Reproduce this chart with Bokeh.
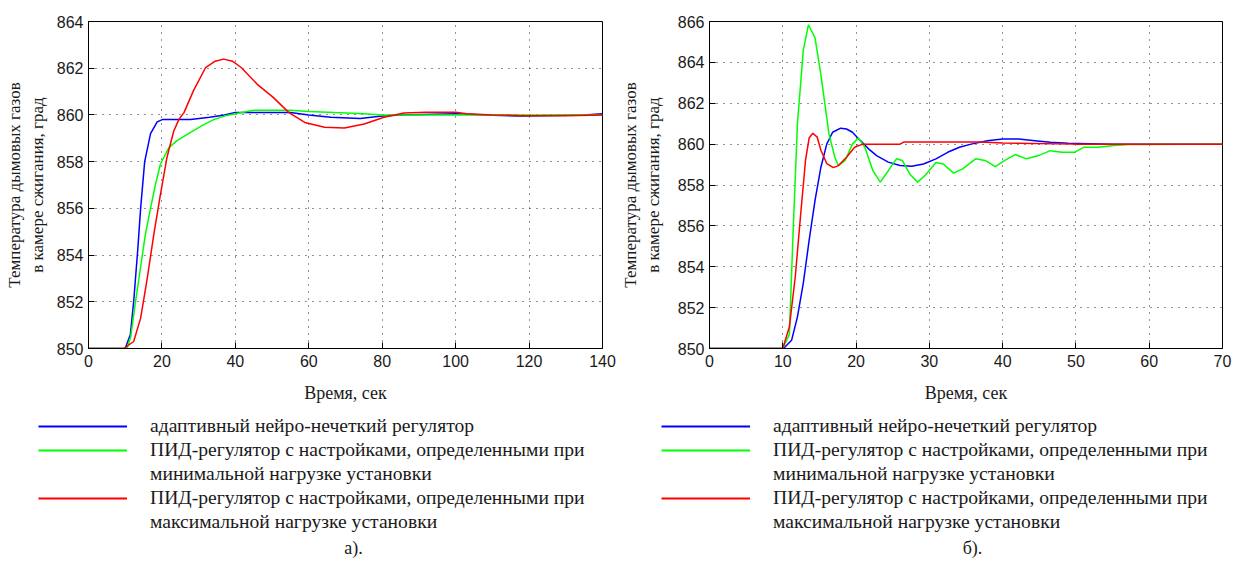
from bokeh.plotting import figure
from bokeh.models import Range1d, FixedTicker, Legend, LegendItem, Label
from bokeh.layouts import row, column
from bokeh.embed import file_html
from bokeh.resources import INLINE

# ---------------- data: panel a) ----------------
a_x_ticks = [0, 20, 40, 60, 80, 100, 120, 140]
a_y_ticks = [850, 852, 854, 856, 858, 860, 862, 864]

a_blue_t = [0, 10.0, 11.4, 12.3, 13.4, 14.2, 15.3, 16.9, 18.7, 20.1, 27.8, 33.0, 37.0, 40.0,
            55.0, 60.0, 66.0, 74.0, 80.0, 85.0, 100.0, 108.0, 118.0, 135.0, 140.0]
a_blue_y = [850.0, 850.0, 850.6, 852.0, 854.2, 856.0, 858.0, 859.2, 859.7, 859.8, 859.8, 859.9, 860.0, 860.1,
            860.1, 860.0, 859.9, 859.85, 859.95, 860.0, 860.05, 860.0, 859.95, 860.0, 860.05]

a_green_t = [0, 10.5, 11.5, 12.8, 14.2, 15.5, 16.9, 18.2, 19.6, 21.9, 24.1, 27.8, 31.0, 34.1, 37.0,
             40.0, 45.0, 55.0, 60.0, 67.0, 75.0, 80.0, 90.0, 140.0]
a_green_y = [850.0, 850.0, 850.5, 852.0, 853.5, 854.9, 856.0, 857.0, 857.9, 858.6, 858.9, 859.25, 859.55, 859.8, 859.95,
             860.05, 860.2, 860.2, 860.15, 860.1, 860.05, 860.0, 860.0, 860.0]

a_red_t = [0, 9.6, 12.3, 14.2, 16.0, 17.8, 19.6, 21.4, 23.2, 24.6, 26.0, 28.6, 31.9, 34.5, 36.8, 39.2,
           41.6, 45.9, 50.3, 54.6, 58.9, 64.3, 69.7, 75.1, 80.5, 85.9, 92.0, 100.0, 103.0, 110.0, 118.0, 130.0, 140.0]
a_red_y = [850.0, 850.0, 850.3, 851.3, 853.0, 854.9, 856.6, 858.2, 859.3, 859.8, 860.1, 861.04, 862.03, 862.3, 862.39, 862.3,
           862.03, 861.32, 860.75, 860.1, 859.68, 859.47, 859.44, 859.61, 859.9, 860.08, 860.12, 860.12, 860.05, 860.0, 859.97, 859.97, 860.0]

# ---------------- data: panel б) ----------------
b_x_ticks = [0, 10, 20, 30, 40, 50, 60, 70]
b_y_ticks = [850, 852, 854, 856, 858, 860, 862, 864, 866]

b_blue_t = [0, 10.1, 11.2, 12.0, 12.8, 13.6, 14.4, 15.2, 16.0, 16.8, 17.9, 18.7, 19.5, 20.6, 21.7, 22.8,
            24.4, 26.0, 27.6, 29.2, 30.9, 32.5, 34.1, 35.7, 37.9, 40.0, 42.2, 44.4, 46.5, 48.9, 55.0, 70.0]
b_blue_y = [850.0, 850.0, 850.4, 851.55, 853.2, 855.3, 857.25, 858.87, 860.0, 860.58, 860.78, 860.74, 860.58, 860.17, 859.77, 859.44,
            859.12, 858.95, 858.92, 859.03, 859.28, 859.6, 859.85, 860.0, 860.17, 860.25, 860.25, 860.17, 860.09, 860.04, 860.0, 860.0]

b_green_t = [0, 10.0, 10.9, 11.4, 12.0, 12.8, 13.5, 14.4, 15.2, 16.3, 17.1, 17.6, 18.5, 19.5, 20.3, 21.2,
             22.3, 23.3, 24.4, 25.5, 26.3, 27.4, 28.4, 29.5, 30.9, 31.9, 33.3, 34.6, 36.3, 37.6, 39.0, 40.3,
             41.7, 43.3, 44.9, 46.5, 48.1, 49.8, 51.1, 53.0, 55.2, 57.3, 60.0, 70.0]
b_green_y = [850.0, 850.0, 850.7, 855.6, 861.0, 864.6, 865.84, 865.2, 863.4, 860.5, 859.36, 858.95, 859.2, 860.0, 860.3, 859.85,
             858.7, 858.14, 858.7, 859.28, 859.2, 858.5, 858.14, 858.5, 859.1, 859.03, 858.58, 858.8, 859.28, 859.2, 858.9, 859.2,
             859.49, 859.28, 859.44, 859.68, 859.6, 859.6, 859.85, 859.85, 859.93, 859.98, 859.98, 860.0]

b_red_t = [0, 10.0, 10.9, 11.7, 12.4, 13.1, 13.6, 14.1, 14.7, 15.2, 16.0, 16.9, 17.6, 18.7, 19.8, 20.9,
           26.0, 26.5, 37.0, 40.0, 50.0, 60.0, 70.0]
b_red_y = [850.0, 850.0, 851.06, 853.5, 856.4, 859.2, 860.3, 860.53, 860.34, 859.7, 859.05, 858.85, 858.95, 859.36, 859.85, 860.0,
           860.0, 860.1, 860.1, 860.05, 860.0, 860.0, 860.0]

# ---------------- texts ----------------
x_title = "Время, сек"
y_title = "Температура дымовых газов\nв камере сжигания, град"
legend_lines = [
    "адаптивный нейро-нечеткий регулятор",
    "ПИД-регулятор с настройками, определенными при",
    "минимальной нагрузке установки",
    "ПИД-регулятор с настройками, определенными при",
    "максимальной нагрузке установки",
]
captions = ["а).", "б)."]

BLUE, GREEN, RED = "#0000ff", "#00ff00", "#ff0000"
SERIF = "Liberation Serif"
SANS = "Liberation Sans"
TXT = "#1a1a1a"

MAIN_H = 410      # chart part
LEG_H = 148       # legend + caption strip
TOP = 21
FRAME_H = 327
TOTAL_W = 1234


def chart(x_ticks, y_ticks, series, width, frame_w, border_left, ylabel_standoff):
    x0, x1 = x_ticks[0], x_ticks[-1]
    y0, y1 = y_ticks[0], y_ticks[-1]
    p = figure(width=width, height=MAIN_H, output_backend="svg", toolbar_location=None,
               x_range=Range1d(x0, x1), y_range=Range1d(y0, y1),
               min_border_left=border_left, min_border_right=width - border_left - frame_w,
               min_border_top=TOP, min_border_bottom=MAIN_H - TOP - FRAME_H,
               background_fill_color="white", border_fill_color="white",
               outline_line_color="black", outline_line_width=1)
    xt = FixedTicker(ticks=x_ticks)
    yt = FixedTicker(ticks=y_ticks)
    p.xaxis.ticker = xt
    p.yaxis.ticker = yt
    for ax in (p.xaxis[0], p.yaxis[0]):
        ax.major_tick_in = 6
        ax.major_tick_out = 0
        ax.minor_tick_line_color = None
        ax.axis_line_color = "black"
        ax.major_tick_line_color = "black"
        ax.major_label_text_font = SANS
        ax.major_label_text_font_size = "16px"
        ax.major_label_text_color = TXT
        ax.axis_label_text_font = SERIF
        ax.axis_label_text_font_style = "normal"
        ax.axis_label_text_color = TXT
    p.xaxis.major_label_standoff = 6
    p.yaxis.major_label_standoff = 5
    p.xaxis.axis_label = x_title
    p.xaxis.axis_label_text_font_size = "18px"
    p.xaxis.axis_label_standoff = 13
    p.yaxis.axis_label = y_title
    p.yaxis.axis_label_text_font_size = "17px"
    p.yaxis.axis_label_standoff = ylabel_standoff
    for g in (p.xgrid[0], p.ygrid[0]):
        g.grid_line_color = "black"
        g.grid_line_alpha = 0.85
        g.grid_line_dash = "1 6"
        g.grid_line_width = 1
    p.xgrid.ticker = xt
    p.ygrid.ticker = yt
    for (t, y, c) in series:
        p.line(t, y, line_color=c, line_width=1.5)
    return p


series_a = [(a_blue_t, a_blue_y, BLUE), (a_green_t, a_green_y, GREEN), (a_red_t, a_red_y, RED)]
series_b = [(b_blue_t, b_blue_y, BLUE), (b_green_t, b_green_y, GREEN), (b_red_t, b_red_y, RED)]

p1 = chart(a_x_ticks, a_y_ticks, series_a, width=617, frame_w=514, border_left=88, ylabel_standoff=7)
p2 = chart(b_x_ticks, b_y_ticks, series_b, width=617, frame_w=513, border_left=92, ylabel_standoff=12)

# legend strip: a borderless figure whose ranges lie outside the data, so only the
# two legends (built from the same series) and the captions are visible
lg = figure(width=TOTAL_W, height=LEG_H, output_backend="svg", toolbar_location=None,
            x_range=Range1d(-2, -1), y_range=Range1d(0, 1),
            x_axis_location=None, y_axis_location=None,
            min_border=0, outline_line_color=None,
            background_fill_color="white", border_fill_color="white")
lg.xgrid.visible = False
lg.ygrid.visible = False


def add_legend(series, legend_x, caption, caption_x):
    lrs = [lg.line(t, y, line_color=c, line_width=2) for (t, y, c) in series]
    items = [
        LegendItem(label=legend_lines[0], renderers=[lrs[0]]),
        LegendItem(label=legend_lines[1], renderers=[lrs[1]]),
        LegendItem(label=legend_lines[2], renderers=[]),
        LegendItem(label=legend_lines[3], renderers=[lrs[2]]),
        LegendItem(label=legend_lines[4], renderers=[]),
    ]
    leg = Legend(items=items, location=(legend_x, 24),
                 orientation="vertical", padding=0, margin=0, spacing=0,
                 glyph_width=89, glyph_height=24, label_height=24, label_standoff=23,
                 label_text_font=SERIF, label_text_font_size="19.6px", label_text_color=TXT,
                 border_line_alpha=0, background_fill_alpha=0)
    lg.add_layout(leg)
    cap = Label(x=caption_x, y=11, x_units="screen", y_units="screen",
                text=caption, text_font=SERIF, text_font_size="18px", text_color=TXT,
                text_align="center", text_baseline="middle")
    lg.add_layout(cap)


add_legend(series_a, 38, captions[0], 353)
add_legend(series_b, 661, captions[1], 972)

layout = column(row(p1, p2, spacing=0), lg, spacing=0)
open("out.html", "w").write(file_html(layout, INLINE))
